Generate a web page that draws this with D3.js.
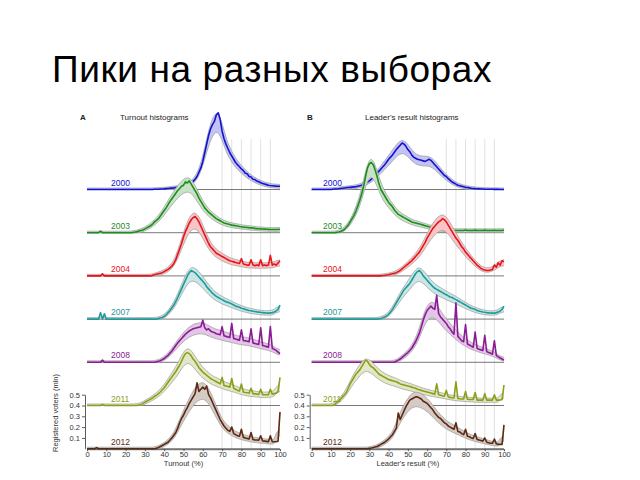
<!DOCTYPE html>
<html><head><meta charset="utf-8">
<script src="https://cdn.jsdelivr.net/npm/d3@7"></script>
<style>body{margin:0;background:#fff}svg{display:block}text{font-family:"Liberation Sans",Arial,sans-serif}</style>
</head><body>
<svg id="c" width="640" height="480"></svg>
<script>
const years = ["2000","2003","2004","2007","2008","2011","2012"];
const colors = ["#1212d4","#1e8c1e","#e8141a","#1f9a98","#8c1a96","#8c9e1a","#5a2a14"];
const xTicks = [0,10,20,30,40,50,60,70,80,90,100];
const yTicks = [0.1,0.2,0.3,0.4,0.5];
const gridPcts = [70,75,80,85,90,95];

// Turnout histograms (registered voters, mln) per 1% bin 0..100
const turnout2000 = [0,0,0,0,0,0,0,0,0,0, 0,0,0,0,0,0,0,0,0,0, 0,0,0,0,0,0,0,0,0,0,
 0,0,0,0,0,.002,.003,.003,.004,.005, .006,.008,.009,.011,.013,.015,.018,.02,.022,.025,
 .028,.032,.038,.046,.058,.075,.095,.12,.16,.2, .26,.34,.42,.5,.56,.6,.63,.69,.71,.65,
 .54,.47,.42,.38,.34,.31,.28,.25,.23,.21, .19,.175,.15,.145,.12,.115,.095,.092,.078,.072,
 .063,.056,.05,.045,.04,.037,.035,.033,.031,.03, .03];
const turnout2003 = [0,0,0,0,0,0,0,.015,0,0, 0,0,0,0,0,0,0,0,0,0, 0,0,0,0,.003,.006,.01,.015,.02,.025,
 .035,.045,.055,.065,.08,.1,.115,.13,.155,.18, .205,.23,.26,.29,.315,.34,.365,.39,.41,.43,
 .44,.47,.46,.48,.45,.42,.39,.36,.32,.29, .26,.23,.21,.19,.175,.16,.145,.13,.12,.11,
 .1,.09,.085,.08,.075,.07,.068,.065,.062,.058, .055,.052,.05,.048,.046,.045,.043,.04,.038,.037,
 .035,.034,.033,.032,.031,.03,.03,.03,.03,.03, .032];
const turnout2004 = [0,0,0,0,0,0,0,0,.02,0, 0,0,0,0,0,0,0,0,0,0, 0,0,0,0,0,0,0,0,0,0,
 0,0,0,0,.005,.01,.015,.02,.025,.03, .04,.05,.06,.075,.09,.115,.15,.2,.25,.3,
 .36,.41,.45,.49,.52,.54,.55,.53,.5,.46, .42,.38,.34,.3,.27,.25,.23,.21,.2,.19,
 .18,.17,.16,.15,.14,.135,.13,.125,.12,.115, .16,.11,.105,.1,.1,.15,.1,.095,.1,.095,
 .15,.095,.1,.095,.1,.19,.1,.11,.1,.12, .14];
const turnout2007 = [0,0,0,0,0,0,0,.06,0,.05, 0,0,0,0,0,0,0,0,0,0, 0,0,0,0,0,0,0,0,0,0,
 0,0,0,0,0,0,0,.005,.01,.015, .025,.04,.06,.08,.105,.13,.165,.2,.24,.28,
 .32,.36,.4,.43,.45,.44,.43,.41,.39,.37, .35,.33,.3,.28,.26,.24,.225,.21,.2,.19,
 .18,.17,.16,.155,.15,.14,.13,.12,.115,.11, .1,.095,.09,.085,.08,.078,.072,.07,.067,.065,
 .062,.06,.058,.056,.055,.058,.06,.065,.075,.09, .13];
const turnout2008 = [0,0,0,0,0,0,0,0,.02,0, 0,0,0,0,0,0,0,0,0,0, 0,0,0,0,0,0,0,0,0,0,
 0,0,0,0,0,0,.005,.01,.015,.025, .035,.05,.065,.085,.105,.13,.155,.18,.2,.22,
 .24,.26,.275,.29,.3,.31,.315,.32,.325,.33, .39,.32,.3,.31,.29,.28,.275,.265,.26,.255,
 .33,.245,.24,.235,.23,.36,.22,.215,.21,.205, .3,.2,.2,.195,.19,.31,.18,.175,.17,.165,
 .32,.155,.15,.145,.14,.33,.13,.12,.11,.095, .08];
const turnout2011 = [0,0,0,0,0,0,0,0,.01,0, 0,0,0,0,0,0,0,0,0,0, 0,0,0,0,0,0,0,.005,.01,.02,
 .03,.04,.05,.06,.07,.085,.095,.11,.125,.145, .165,.19,.215,.24,.265,.29,.315,.345,.375,.41,
 .45,.48,.49,.48,.46,.43,.41,.38,.35,.33, .31,.295,.28,.265,.25,.24,.23,.22,.21,.2,
 .26,.185,.18,.175,.17,.25,.16,.15,.14,.135, .2,.125,.12,.118,.115,.16,.11,.108,.105,.102,
 .15,.1,.1,.1,.1,.15,.105,.11,.115,.13, .26];
const turnout2012 = [0,0,0,0,0,.01,0,0,0,0, 0,0,0,0,0,0,0,0,0,0, 0,0,0,0,0,0,0,0,0,0,
 0,0,0,0,0,0,.005,.01,.02,.03, .04,.05,.06,.08,.1,.125,.15,.19,.24,.28,
 .31,.35,.38,.42,.45,.48,.51,.61,.53,.55, .57,.55,.58,.5,.47,.43,.39,.35,.31,.27,
 .24,.21,.19,.17,.16,.2,.14,.13,.12,.115, .18,.105,.1,.095,.09,.15,.085,.08,.08,.078,
 .12,.072,.07,.068,.065,.12,.065,.065,.065,.07, .34];

// Leader's result histograms (registered voters, mln) per 1% bin 0..100
const leader2000 = [0,0,0,0,0,0,0,0,0,0, 0,.003,.004,.005,.007,.01,.012,.014,.016,.018,
 .02,.022,.024,.025,.03,.035,.04,.05,.06,.07, .08,.095,.11,.13,.15,.17,.19,.21,.23,.255,
 .28,.3,.32,.345,.37,.39,.41,.43,.42,.4, .37,.35,.32,.3,.29,.28,.275,.27,.265,.26,
 .27,.28,.27,.25,.23,.21,.19,.17,.15,.13, .12,.1,.085,.07,.06,.05,.04,.035,.03,.025,
 .02,.018,.015,.012,.01,.008,.007,.006,.005,.004, .003,.003,.002,.002,.002,.001,.001,.001,0,0, 0];
const leader2003 = [0,0,0,0,0,0,0,0,0,0, 0,0,0,.003,.006,.01,.02,.03,.05,.07,
 .1,.13,.16,.2,.25,.3,.36,.43,.52,.6, .64,.65,.63,.58,.52,.45,.4,.37,.34,.31,
 .28,.26,.24,.21,.19,.17,.16,.15,.14,.13, .12,.11,.1,.095,.09,.085,.08,.075,.07,.065,
 .06,.055,.05,.045,.04,.038,.035,.033,.03,.028, .025,.024,.023,.022,.021,.02,.02,.02,.02,.02,
 .025,.02,.02,.02,.02,.024,.02,.02,.02,.02, .024,.02,.02,.02,.02,.023,.02,.02,.02,.02, .025];
const leader2004 = [0,0,0,0,0,0,0,0,0,0, 0,0,0,0,0,0,0,0,0,0, 0,0,0,0,0,0,0,0,0,0,
 0,0,0,0,0,0,0,.003,.005,.008, .01,.015,.02,.025,.03,.04,.05,.065,.08,.095,
 .11,.125,.14,.16,.18,.2,.22,.25,.28,.31, .35,.38,.41,.44,.46,.48,.5,.51,.53,.52,
 .5,.47,.44,.41,.38,.35,.33,.3,.27,.25, .22,.2,.18,.16,.14,.12,.1,.085,.07,.06,
 .055,.05,.05,.055,.06,.1,.08,.12,.1,.14, .13];
const leader2007 = [0,0,0,0,0,0,0,0,0,0, 0,0,0,0,0,0,0,0,0,0, 0,0,0,0,0,0,0,0,0,0,
 0,0,0,0,0,.003,.006,.012,.02,.03, .045,.065,.09,.12,.15,.18,.21,.24,.27,.29,
 .31,.33,.36,.39,.42,.44,.45,.43,.4,.38, .36,.34,.32,.3,.285,.275,.265,.255,.245,.235,
 .225,.215,.205,.2,.19,.18,.17,.16,.15,.14, .13,.12,.11,.1,.095,.09,.08,.075,.07,.066,
 .063,.06,.058,.056,.055,.055,.06,.065,.075,.09, .12];
const leader2008 = [0,0,0,0,0,0,0,0,0,0, 0,0,0,0,0,0,0,0,0,0, 0,0,0,0,0,0,0,0,0,0,
 0,0,0,0,0,0,0,0,0,0, 0,0,0,0,.01,.02,.03,.045,.06,.075,
 .09,.11,.13,.16,.19,.23,.27,.33,.39,.44, .48,.5,.52,.5,.49,.62,.45,.42,.4,.38,
 .36,.33,.31,.28,.26,.55,.24,.22,.2,.19, .35,.17,.16,.15,.14,.28,.13,.12,.115,.11,
 .25,.1,.09,.085,.075,.2,.065,.05,.04,.03, .02];
const leader2011 = [0,0,0,0,0,0,0,0,0,0, 0,0,.01,.03,.04,.06,.08,.1,.12,.16,
 .2,.23,.26,.29,.31,.33,.36,.39,.42,.41, .38,.36,.35,.33,.31,.29,.28,.27,.26,.25,
 .24,.235,.23,.225,.22,.21,.2,.195,.19,.185, .18,.175,.17,.165,.16,.15,.145,.14,.135,.13,
 .125,.12,.115,.11,.105,.2,.1,.095,.09,.087, .14,.08,.075,.072,.07,.22,.065,.062,.06,.06,
 .13,.058,.055,.055,.055,.12,.05,.05,.05,.05, .11,.05,.05,.05,.05,.1,.05,.05,.05,.055, .19];
const leader2012 = [0,0,0,0,0,0,0,0,0,0, 0,0,0,0,0,0,0,0,0,0, 0,0,0,0,0,0,0,0,0,0,
 .003,.006,.01,.015,.02,.03,.04,.05,.06,.075, .09,.11,.13,.16,.19,.33,.27,.31,.35,.39,
 .42,.45,.46,.47,.48,.48,.47,.46,.44,.43, .42,.4,.38,.36,.33,.31,.29,.28,.26,.24,
 .23,.21,.2,.19,.18,.24,.16,.155,.14,.13, .18,.115,.11,.1,.095,.14,.085,.08,.075,.07,
 .1,.06,.055,.05,.05,.09,.045,.04,.04,.04, .22];

const turnoutSeries = [turnout2000,turnout2003,turnout2004,turnout2007,turnout2008,turnout2011,turnout2012];
const leaderSeries = [leader2000,leader2003,leader2004,leader2007,leader2008,leader2011,leader2012];

const svg = d3.select("#c");
svg.append("text").attr("x",52).attr("y",82).attr("font-size",37).attr("letter-spacing",0.6)
  .attr("fill","#000").text("Пики на разных выборах");

const step = 0.4;
const y = d3.scaleLinear().domain([0, 2.8]).range([448.7, 448.7 - 2.8*108]);

function smooth(v){
  const n=v.length;
  const med=v.map((_,i)=>{const w=[];for(let k=-2;k<=2;k++){const j=Math.min(n-1,Math.max(0,i+k));w.push(v[j]);}return d3.median(w);});
  return med.map((_,i)=>{let s=0,c=0;for(let k=-2;k<=2;k++){const j=i+k;if(j>=0&&j<n){s+=med[j];c++;}}return s/c;});
}

function panel(opt){
  const x = d3.scaleLinear().domain([0,100]).range([opt.x0, opt.x1]);
  const g = svg.append("g");
  g.selectAll("line.grid").data(gridPcts).join("line")
    .attr("x1",d=>x(d)).attr("x2",d=>x(d)).attr("y1",139).attr("y2",y(0))
    .attr("stroke","#d4d4d4").attr("stroke-width",0.7);
  opt.series.forEach((vals,i)=>{
    const off = (years.length-1-i)*step;
    const col = colors[i];
    const s = smooth(vals);
    const pts = vals.map((v,k)=>({p:k,v:v,s:s[k]}));
    const up = d=>d.s+0.014+0.09*d.s;
    const lo = d=>Math.max(0,d.s-0.014-0.14*d.s);
    const gg = g.append("g");
    gg.append("line").attr("x1",x(0)).attr("x2",x(100)).attr("y1",y(off)).attr("y2",y(off))
      .attr("stroke","#6a6a6a").attr("stroke-width",0.9);
    gg.append("path").datum(pts)
      .attr("d",d3.area().x(d=>x(d.p)).y0(d=>y(off+lo(d))).y1(d=>y(off+up(d))).curve(d3.curveBasis))
      .attr("fill",d3.interpolateRgb("#ffffff",col)(0.25));
    [up,lo].forEach(f=>{
      gg.append("path").datum(pts)
        .attr("d",d3.line().x(d=>x(d.p)).y(d=>y(off+f(d))).curve(d3.curveBasis))
        .attr("fill","none").attr("stroke","#9a9a9a").attr("stroke-width",0.7);
    });
    gg.append("path").datum(pts)
      .attr("d",d3.line().x(d=>x(d.p)).y(d=>y(off+d.v)))
      .attr("fill","none").attr("stroke",col).attr("stroke-width",1.6).attr("stroke-linejoin","round");
    gg.append("text").attr("x",opt.labelX).attr("y",y(off)-4).attr("font-size",8.5)
      .attr("fill",col).text(years[i]);
  });
  const ax = g.append("g").attr("transform",`translate(0,${y(0)+0.5})`)
    .call(d3.axisBottom(x).tickValues(xTicks).tickSize(2).tickSizeOuter(0).tickPadding(0.5));
  ax.selectAll("text").attr("font-size",7.5).attr("fill","#333").attr("font-family","Liberation Sans, Arial");
  ax.selectAll("line,path").attr("stroke","#333").attr("stroke-width",0.8);
  const ys = d3.scaleLinear().domain([0,0.5]).range([y(0), y(0.5)]);
  const ay = g.append("g").attr("transform",`translate(${opt.x0-2},0)`)
    .call(d3.axisLeft(ys).tickValues(yTicks).tickSize(3).tickSizeOuter(0).tickPadding(2).tickFormat(d3.format(".1f")));
  ay.selectAll("text").attr("font-size",7.5).attr("fill","#333").attr("font-family","Liberation Sans, Arial");
  ay.selectAll("line,path").attr("stroke","#333").attr("stroke-width",0.8);
  g.append("text").attr("x",x(50)).attr("y",465.5).attr("text-anchor","middle").attr("font-size",7.5)
    .attr("fill","#333").text(opt.xTitle);
  g.append("text").attr("x",opt.letterX).attr("y",120).attr("font-size",8).attr("font-weight","bold")
    .attr("fill","#222").text(opt.letter);
  g.append("text").attr("x",opt.titleX).attr("y",120).attr("font-size",8)
    .attr("fill","#222").text(opt.title);
}

panel({x0:87,x1:280,series:turnoutSeries,labelX:111,xTitle:"Turnout (%)",letter:"A",letterX:80,title:"Turnout histograms",titleX:120});
panel({x0:311.7,x1:504,series:leaderSeries,labelX:323,xTitle:"Leader's result (%)",letter:"B",letterX:307,title:"Leader's result histograms",titleX:365});

svg.append("text").attr("transform","translate(58,413) rotate(-90)").attr("text-anchor","middle")
  .attr("font-size",7.5).attr("fill","#333").text("Registered voters (mln)");
</script>
</body></html>
